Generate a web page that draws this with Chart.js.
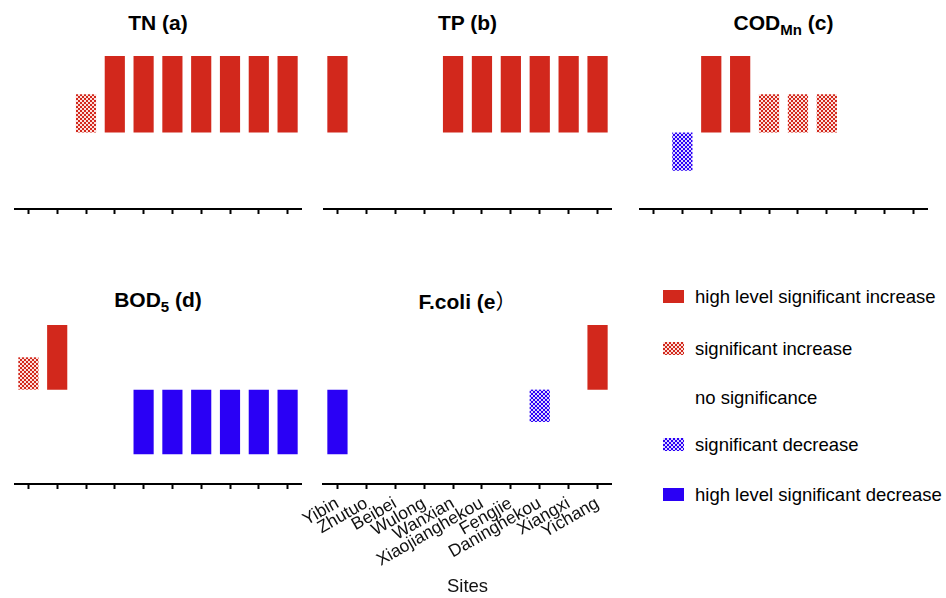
<!DOCTYPE html>
<html>
<head>
<meta charset="utf-8">
<script src="https://cdn.jsdelivr.net/npm/chart.js@4"></script>
<style>
  body { margin: 0; background: #fff; font-family: "Liberation Sans", Arial, sans-serif; }
  #wrap { position: relative; width: 946px; height: 598px; overflow: hidden; }
  canvas { position: absolute; }
  .title { position: absolute; text-align: center; font-weight: bold; font-size: 21px; line-height: 24px; color: #000; }
  .title sub { font-size: 15px; vertical-align: -5px; line-height: 0; }
  .lg { position: absolute; font-size: 18.5px; line-height: 20px; color: #000; white-space: nowrap; }
  .sw { position: absolute; width: 21px; height: 13px; }
</style>
</head>
<body>
<div id="wrap">
  <canvas id="tn"></canvas>
  <canvas id="tp"></canvas>
  <canvas id="cod"></canvas>
  <canvas id="bod"></canvas>
  <canvas id="fcoli"></canvas>

  <div class="title" style="left:14px;top:11px;width:288px;">TN (a)</div>
  <div class="title" style="left:323px;top:11px;width:289px;">TP (b)</div>
  <div class="title" style="left:639px;top:11px;width:289px;">COD<sub>Mn</sub> (c)</div>
  <div class="title" style="left:14px;top:288px;width:288px;">BOD<sub>5</sub> (d)</div>
  <div class="title" style="left:323px;top:288px;width:289px;">F.coli (e<span style="font-weight:normal;font-family:'Noto Sans CJK SC',sans-serif;">）</span></div>

  <div id="legend"></div>
</div>
<script>
// sites along the x axis
const sites = ['Yibin', 'Zhutuo', 'Beibei', 'Wulong', 'Wanxian', 'Xiaojianghekou', 'Fengjie', 'Daninghekou', 'Xiangxi', 'Yichang'];

// trend level per site: 2 high level increase, 1 increase, 0 none, -1 decrease, -2 high level decrease
const tnLevels = [0, 0, 1, 2, 2, 2, 2, 2, 2, 2];
const tpLevels = [2, 0, 0, 0, 2, 2, 2, 2, 2, 2];
const codLevels = [0, -1, 2, 2, 1, 1, 1, 0, 0, 0];
const bodLevels = [1, 2, 0, 0, -2, -2, -2, -2, -2, -2];
const fcoliLevels = [-2, 0, 0, 0, 0, 0, 0, -1, 0, 2];

const legendLabels = ['high level significant increase', 'significant increase', 'no significance', 'significant decrease', 'high level significant decrease'];

const RED = '#d2281c';
const BLUE = '#2a00f5';
const RED_LIGHT = '#fbe0dd';
const BLUE_LIGHT = '#dcd6ff';

// small checker pattern for the "significant" bars
function checker(dark, light) {
  const c = document.createElement('canvas');
  c.width = 4; c.height = 4;
  const g = c.getContext('2d');
  g.fillStyle = light;
  g.fillRect(0, 0, 4, 4);
  g.fillStyle = dark;
  g.fillRect(0, 0, 2, 2);
  g.fillRect(2, 2, 2, 2);
  return g.createPattern(c, 'repeat');
}
const redPat = checker(RED, RED_LIGHT);
const bluePat = checker(BLUE, BLUE_LIGHT);

function colorFor(v) {
  if (v >= 2) return RED;
  if (v == 1) return redPat;
  if (v == -1) return bluePat;
  if (v <= -2) return BLUE;
  return 'rgba(0,0,0,0)';
}

// build one panel; box = plot area in page pixels
function panel(id, levels, box, yMin, showLabels) {
  const axisH = showLabels ? 598 - box.bottom : 10;
  const padL = showLabels ? 40 : 0;   // room for the first rotated label
  const cv = document.getElementById(id);
  cv.width = box.width + padL;
  cv.height = (box.bottom - box.top) + axisH;
  cv.style.left = (box.left - padL) + 'px';
  cv.style.top = box.top + 'px';

  new Chart(cv.getContext('2d'), {
    type: 'bar',
    data: {
      labels: sites,
      datasets: [{
        data: levels,
        backgroundColor: levels.map(colorFor),
        borderWidth: 0,
        categoryPercentage: 1,
        barPercentage: 0.7
      }]
    },
    options: {
      responsive: false,
      animation: false,
      layout: { padding: { left: padL, right: 0, top: 0, bottom: 0 } },
      plugins: { legend: { display: false }, tooltip: { enabled: false } },
      scales: {
        x: {
          // keep the plot area the same in every panel, labels may spill out
          afterFit: s => { s.height = axisH; s.paddingLeft = 0; s.paddingRight = 0; },
          grid: { display: true, drawOnChartArea: false, drawTicks: true, offset: false,
                  tickLength: 5, tickWidth: 2, tickColor: '#000' },
          border: { display: true, color: '#000', width: 2 },
          ticks: {
            display: showLabels, autoSkip: false, minRotation: 30, maxRotation: 30,
            padding: 4, color: '#111',
            font: { family: '"Liberation Sans", Arial, sans-serif', size: 17.5 }
          },
          title: {
            display: showLabels, text: 'Sites', color: '#111',
            padding: { top: 0, bottom: 0 },
            font: { family: '"Liberation Sans", Arial, sans-serif', size: 18.5 }
          }
        },
        y: { display: false, min: yMin, max: 2 }
      }
    }
  });
}

panel('tn', tnLevels, { left: 14, width: 288, top: 56, bottom: 209 }, -2, false);
panel('tp', tpLevels, { left: 323, width: 289, top: 56, bottom: 209 }, -2, false);
panel('cod', codLevels, { left: 639, width: 289, top: 56, bottom: 209 }, -2, false);
panel('bod', bodLevels, { left: 14, width: 288, top: 325, bottom: 484 }, -2.92, false);
panel('fcoli', fcoliLevels, { left: 323, width: 289, top: 325, bottom: 484 }, -2.92, true);

// legend on the right
const legendY = [297, 349, 398, 445, 495];
const legendSwatch = [
  RED,
  'repeating-conic-gradient(' + RED + ' 0 25%, ' + RED_LIGHT + ' 0 50%) 0 0 / 4px 4px',
  'none',
  'repeating-conic-gradient(' + BLUE + ' 0 25%, ' + BLUE_LIGHT + ' 0 50%) 0 0 / 4px 4px',
  BLUE
];
const lg = document.getElementById('legend');
legendLabels.forEach((txt, i) => {
  const sw = document.createElement('div');
  sw.className = 'sw';
  sw.style.left = '663px';
  sw.style.top = (legendY[i] - 7) + 'px';
  sw.style.background = legendSwatch[i];
  lg.appendChild(sw);
  const t = document.createElement('div');
  t.className = 'lg';
  t.style.left = '695px';
  t.style.top = (legendY[i] - 10) + 'px';
  t.textContent = txt;
  lg.appendChild(t);
});
</script>
</body>
</html>
